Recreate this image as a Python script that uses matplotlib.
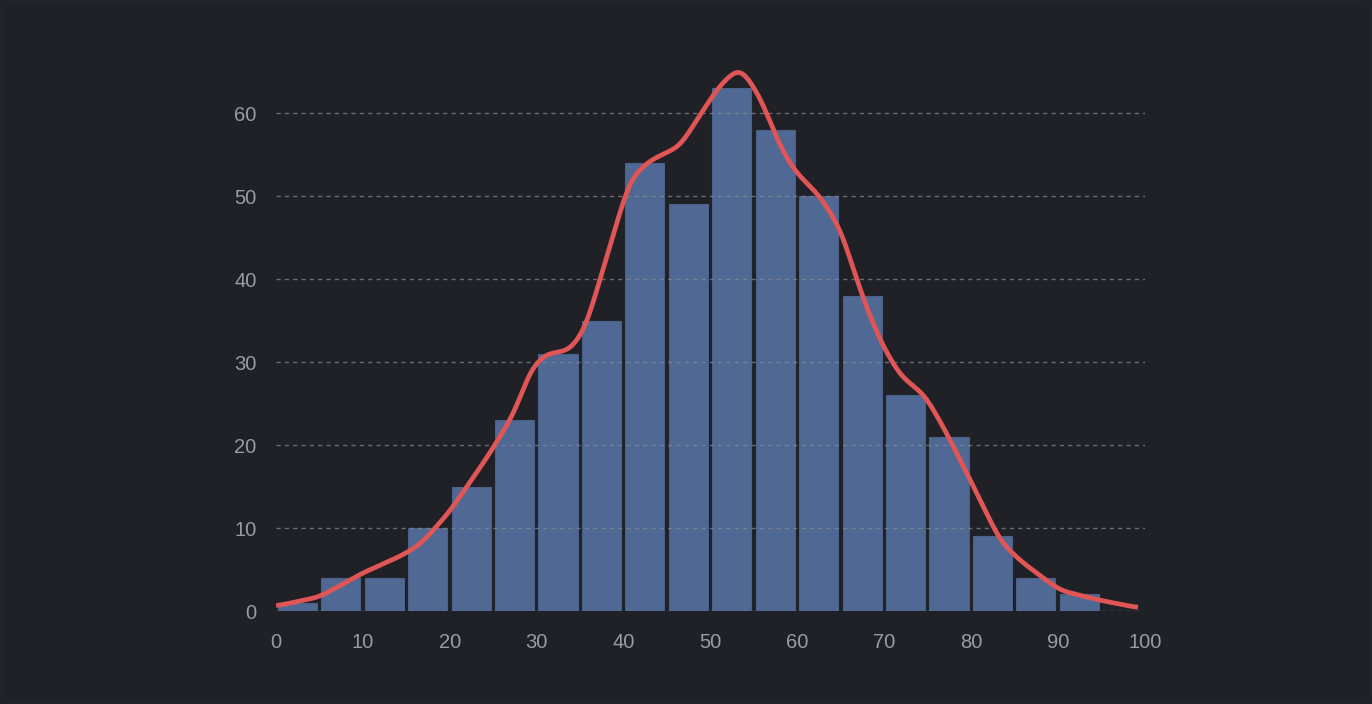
import numpy as np
import matplotlib
matplotlib.use('Agg')
import matplotlib.pyplot as plt
from matplotlib.patches import FancyBboxPatch

# histogram bins (left edges) and counts
bin_left = [0, 5, 10, 15, 20, 25, 30, 35, 40, 45, 50, 55, 60, 65, 70, 75, 80, 85, 90, 95]
counts = [1, 4, 4, 10, 15, 23, 31, 35, 54, 49, 63, 58, 50, 38, 26, 21, 9, 4, 2, 0]

# density curve
curve_x = [0, 5, 10, 14.3, 16.6, 20, 24.6, 27.5, 29.2, 31, 33.8, 35.6, 37.3, 39, 40.7,
           43, 46.5, 48.8, 51.1, 53.4, 55.7, 58, 59.7, 62.6, 65, 67.2, 69.5, 71.8,
           74.7, 77, 79.9, 83.3, 85.6, 90.2, 94.8, 99.2]
curve_y = [0.6, 1.7, 4.6, 6.6, 8.0, 12.0, 19.0, 24.0, 29.0, 31.0, 31.4, 34.0, 40.0, 46.0, 52.0,
           54.3, 56.0, 59.8, 63.4, 65.6, 62.0, 56.0, 53.0, 50.0, 46.0, 38.7, 32.6, 28.4,
           26.0, 21.8, 15.8, 8.5, 6.1, 2.5, 1.3, 0.4]

plt.rcParams['font.family'] = ['Liberation Sans', 'DejaVu Sans']

bg = '#202126'
fig = plt.figure(figsize=(13.72, 7.04), dpi=100, facecolor=bg)
fig.patches.append(FancyBboxPatch((0.001, 0.002), 0.998, 0.996, boxstyle='round,pad=0,rounding_size=0.012',
                                  transform=fig.transFigure, facecolor=bg, edgecolor='#26272c',
                                  linewidth=1, zorder=-1))
ax = fig.add_axes([0.2012, 0.1321, 0.6333, 0.8250])
ax.set_facecolor(bg)

ax.bar([b + 0.2 for b in bin_left], counts, width=4.5, align='edge', color='#4f6894',
       edgecolor='#4a6088', linewidth=0.8, zorder=2)

# smooth the read points for the line (gaussian kernel)
xs = np.linspace(curve_x[0], curve_x[-1], 800)
ys = np.interp(xs, curve_x, curve_y)
g = np.exp(-0.5 * (np.arange(-15, 16) / 6.0) ** 2)
g /= g.sum()
ys_s = np.convolve(np.pad(ys, 15, mode='edge'), g, mode='valid')
ax.plot(xs, ys_s, color='#e05555', linewidth=3.4, solid_capstyle='butt', zorder=4)

ax.set_xlim(0, 100)
ax.set_ylim(0, 70)
ax.set_xticks(np.arange(0, 101, 10))
ax.set_yticks(np.arange(0, 61, 10))
ax.yaxis.grid(True, color='#8a8c94', linestyle=(0, (3, 3)), linewidth=1, alpha=0.7, zorder=3)
ax.set_axisbelow(False)
for s in ax.spines.values():
    s.set_visible(False)
ax.tick_params(axis='both', length=0, labelsize=14.5, labelcolor='#9a9ca3')
ax.tick_params(axis='x', pad=16)
ax.tick_params(axis='y', pad=14)

fig.savefig('out.png', dpi=100, facecolor=bg)
